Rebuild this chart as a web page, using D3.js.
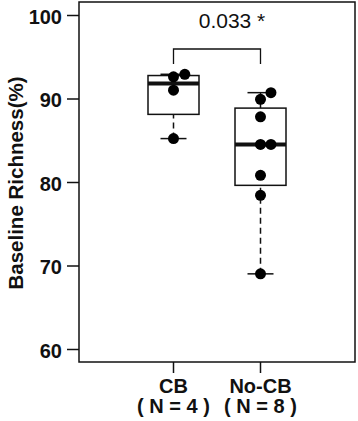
<!DOCTYPE html>
<html>
<head>
<meta charset="utf-8">
<script src="https://cdn.jsdelivr.net/npm/d3@7"></script>
<style>
  body { margin: 0; background: #fff; }
  svg text { font-family: "Liberation Sans", Arial, sans-serif; fill: #111; }
</style>
</head>
<body>
<div id="chart"></div>
<script>
// data
var groups = ["CB", "No-CB"];
var groupN = ["( N = 4 )", "( N = 8 )"];
var cbValues = [92.6, 92.9, 91.0, 85.2];
var noCbValues = [89.9, 90.7, 87.8, 84.5, 84.5, 80.8, 78.4, 69.0];
// horizontal offsets of stacked points (in group units)
var cbJitter = [0, 0.13, 0, 0];
var noCbJitter = [0, 0.12, 0, 0, 0.12, 0, 0, 0];
var yTicks = [60, 70, 80, 90, 100];
var pLabel = "0.033 *";

function init() {
    var w = 358, h = 421;
    var left = 79, right = 355, top = 2, bottom = 362;

    var svg = d3.select("#chart").append("svg")
        .attr("width", w)
        .attr("height", h);

    var y = d3.scaleLinear().domain([60, 100]).range([349, 15]);
    var x = d3.scaleLinear().domain([0, 1]).range([173.5, 260.5]);
    var boxHalf = 25.5, capHalf = 13;

    // frame
    svg.append("rect")
        .attr("x", left).attr("y", top)
        .attr("width", right - left).attr("height", bottom - top)
        .attr("fill", "none").attr("stroke", "#111").attr("stroke-width", 1.5);

    // y axis
    var yAxis = d3.axisLeft(y).tickValues(yTicks).tickSize(12).tickPadding(5);
    var gy = svg.append("g").attr("transform", "translate(" + left + ",0)").call(yAxis);
    gy.select(".domain").remove();
    gy.selectAll("line").attr("stroke", "#111").attr("stroke-width", 1.5);
    gy.selectAll("text")
        .attr("dy", "0.4em")
        .style("font-size", "20px").style("font-weight", "bold")
        .style("font-family", "Liberation Sans, Arial, sans-serif").attr("fill", "#111");

    // x ticks and labels
    var xt = svg.append("g");
    groups.forEach(function (g, i) {
        xt.append("line")
            .attr("x1", x(i)).attr("x2", x(i))
            .attr("y1", bottom).attr("y2", bottom + 11)
            .attr("stroke", "#111").attr("stroke-width", 1.5);
        xt.append("text")
            .attr("x", x(i)).attr("y", 393)
            .attr("text-anchor", "middle")
            .style("font-size", "20px").style("font-weight", "bold")
            .text(g);
        xt.append("text")
            .attr("x", x(i)).attr("y", 413)
            .attr("text-anchor", "middle")
            .style("font-size", "20px").style("font-weight", "bold")
            .text(groupN[i]);
    });

    // y label
    svg.append("text")
        .attr("transform", "translate(23," + 183 + ") rotate(-90)")
        .attr("text-anchor", "middle")
        .style("font-size", "20.5px").style("font-weight", "bold")
        .text("Baseline Richness(%)");

    // boxes
    var sets = [
        { vals: cbValues, jit: cbJitter },
        { vals: noCbValues, jit: noCbJitter }
    ];

    // R style hinges (fivenum)
    function fivenum(v) {
        var s = v.slice().sort(d3.ascending);
        var n = s.length;
        var n4 = Math.floor((n + 3) / 2) / 2;
        var d = [1, n4, (n + 1) / 2, n + 1 - n4, n];
        return d.map(function (k) {
            return 0.5 * (s[Math.floor(k) - 1] + s[Math.ceil(k) - 1]);
        });
    }

    sets.forEach(function (set, i) {
        var f = fivenum(set.vals);
        var cx = x(i);
        var g = svg.append("g");

        // whiskers
        g.append("line")
            .attr("x1", cx).attr("x2", cx)
            .attr("y1", y(f[0])).attr("y2", y(f[1]))
            .attr("stroke", "#111").attr("stroke-width", 1.5)
            .attr("stroke-dasharray", "6,4");
        g.append("line")
            .attr("x1", cx).attr("x2", cx)
            .attr("y1", y(f[3])).attr("y2", y(f[4]))
            .attr("stroke", "#111").attr("stroke-width", 1.5)
            .attr("stroke-dasharray", "6,4");
        [f[0], f[4]].forEach(function (v) {
            g.append("line")
                .attr("x1", cx - capHalf).attr("x2", cx + capHalf)
                .attr("y1", y(v)).attr("y2", y(v))
                .attr("stroke", "#111").attr("stroke-width", 1.5);
        });

        g.append("rect")
            .attr("x", cx - boxHalf).attr("width", boxHalf * 2)
            .attr("y", y(f[3])).attr("height", y(f[1]) - y(f[3]))
            .attr("fill", "#fff").attr("stroke", "#111").attr("stroke-width", 1.5);

        g.append("line")
            .attr("x1", cx - boxHalf).attr("x2", cx + boxHalf)
            .attr("y1", y(f[2])).attr("y2", y(f[2]))
            .attr("stroke", "#111").attr("stroke-width", 4);

        g.selectAll("circle")
            .data(set.vals)
            .enter()
            .append("circle")
            .attr("cx", function (d, j) { return x(i + set.jit[j]); })
            .attr("cy", function (d) { return y(d); })
            .attr("r", 5.5)
            .attr("fill", "#000");
    });

    // significance bracket
    var by = 49, bdrop = 15;
    svg.append("path")
        .attr("d", "M" + x(0) + "," + (by + bdrop) + "V" + by + "H" + x(1) + "V" + (by + bdrop))
        .attr("fill", "none").attr("stroke", "#111").attr("stroke-width", 1.3);
    svg.append("text")
        .attr("x", (x(0) + x(1)) / 2 + 15).attr("y", 28)
        .attr("text-anchor", "middle")
        .style("font-size", "21px")
        .text(pLabel);
}
init();
</script>
</body>
</html>
